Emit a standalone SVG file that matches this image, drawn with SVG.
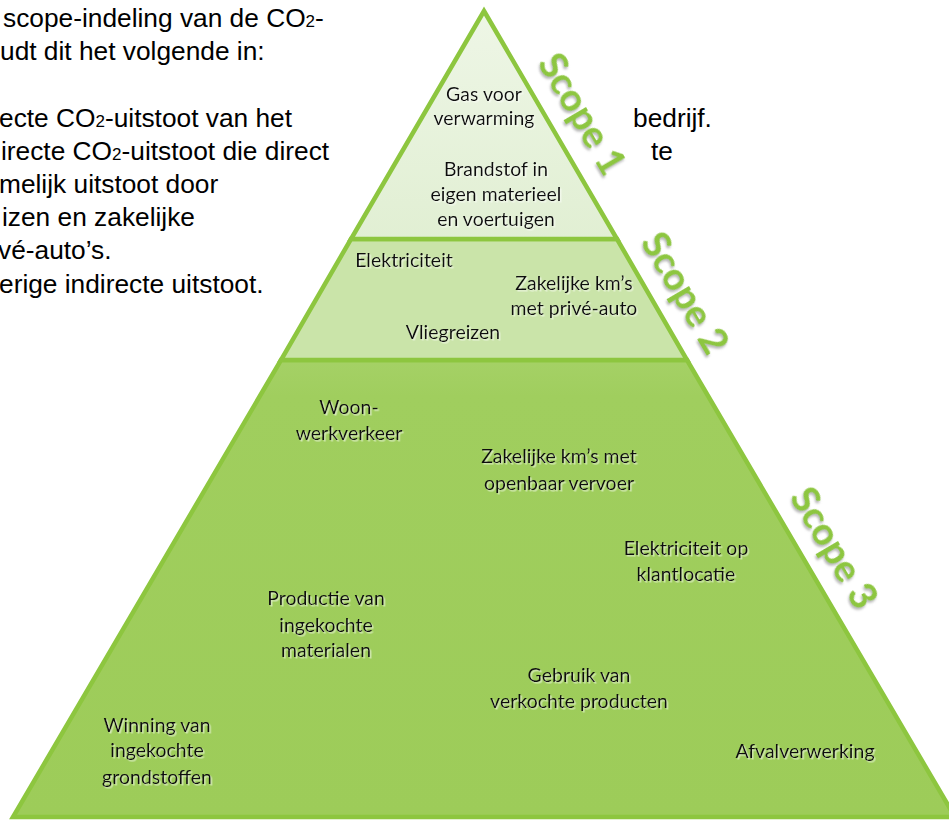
<svg xmlns="http://www.w3.org/2000/svg" width="949" height="820" viewBox="0 0 949 820">
<style>
.body{font-family:"Liberation Sans",Arial,sans-serif;font-size:26.3px;fill:#000}
.sub{font-size:17px}
.lbl{font-family:Lato,"Open Sans",sans-serif;font-size:19.5px;fill:#111;text-anchor:middle;filter:url(#ts)}
.scope{font-family:Lato,"Open Sans",sans-serif;font-weight:bold;font-size:38px;fill:#8dc63f;text-anchor:middle;filter:url(#ss)}
.band{stroke:#8dc63f;stroke-width:4.5;stroke-linejoin:miter}
</style>
<defs>
<linearGradient id="g1" x1="0" y1="0" x2="0" y2="1"><stop offset="0" stop-color="#eef6e6"/><stop offset="1" stop-color="#e1efd3"/></linearGradient>
<linearGradient id="g3" x1="0" y1="0" x2="0" y2="1"><stop offset="0" stop-color="#a5d166"/><stop offset="0.08" stop-color="#a0ce5e"/><stop offset="1" stop-color="#9dcc59"/></linearGradient>
<filter id="ts" x="-10%" y="-30%" width="120%" height="160%"><feDropShadow dx="1.5" dy="1.5" stdDeviation="0.6" flood-color="#ffffff" flood-opacity="0.55"/></filter>
<filter id="ss" x="-10%" y="-30%" width="120%" height="160%"><feDropShadow dx="1.5" dy="2" stdDeviation="1" flood-color="#888888" flood-opacity="0.6"/></filter>
</defs>
<g id="body-text">
<text class="body" x="3" y="27">scope-indeling van de CO<tspan class="sub">2</tspan>-</text>
<text class="body" x="0" y="60">udt dit het volgende in:</text>
<text class="body" x="-1" y="127">ecte CO<tspan class="sub">2</tspan>-uitstoot van het</text>
<text class="body" x="633" y="127">bedrijf.</text>
<text class="body" x="1" y="160">irecte CO<tspan class="sub">2</tspan>-uitstoot die direct</text>
<text class="body" x="651" y="160">te</text>
<text class="body" x="-1" y="193">melijk uitstoot door</text>
<text class="body" x="2" y="226">izen en zakelijke</text>
<text class="body" x="-2" y="259">vé-auto’s.</text>
<text class="body" x="-1" y="293">erige indirecte uitstoot.</text>
</g>
<g id="scope3">
<polygon class="band" points="281,360 687,360 955,817 13,817" fill="url(#g3)"/>
</g>
<g id="scope2">
<polygon class="band" points="351,239 617,239 687,360 281,360" fill="#cae4a9"/>
</g>
<g id="scope1">
<polygon class="band" points="484,11 617,239 351,239" fill="url(#g1)"/>
</g>
<g id="connectors"/>
<g id="labels">
<text class="lbl" x="484" y="101">Gas voor</text>
<text class="lbl" x="484" y="125">verwarming</text>
<text class="lbl" x="496" y="176">Brandstof in</text>
<text class="lbl" x="496" y="201">eigen materieel</text>
<text class="lbl" x="496" y="226">en voertuigen</text>
<text class="lbl" x="404" y="267">Elektriciteit</text>
<text class="lbl" x="574" y="290">Zakelijke km’s</text>
<text class="lbl" x="574" y="315">met privé-auto</text>
<text class="lbl" x="453" y="339">Vliegreizen</text>
<text class="lbl" x="349" y="414">Woon-</text>
<text class="lbl" x="349" y="440">werkverkeer</text>
<text class="lbl" x="559" y="463">Zakelijke km’s met</text>
<text class="lbl" x="559" y="490">openbaar vervoer</text>
<text class="lbl" x="686" y="555">Elektriciteit op</text>
<text class="lbl" x="686" y="581">klantlocatie</text>
<text class="lbl" x="326" y="605">Productie van</text>
<text class="lbl" x="326" y="632">ingekochte</text>
<text class="lbl" x="326" y="657">materialen</text>
<text class="lbl" x="579" y="682">Gebruik van</text>
<text class="lbl" x="579" y="708">verkochte producten</text>
<text class="lbl" x="157" y="732">Winning van</text>
<text class="lbl" x="157" y="757">ingekochte</text>
<text class="lbl" x="157" y="784">grondstoffen</text>
<text class="lbl" x="805" y="758">Afvalverwerking</text>
</g>
<g id="scope-labels">
<g transform="translate(582,114) rotate(59.5)"><text class="scope" x="0" y="13">Scope 1</text></g>
<g transform="translate(685,293) rotate(59.5)"><text class="scope" x="0" y="13">Scope 2</text></g>
<g transform="translate(834,548) rotate(59.5)"><text class="scope" x="0" y="13">Scope 3</text></g>
</g>
</svg>
